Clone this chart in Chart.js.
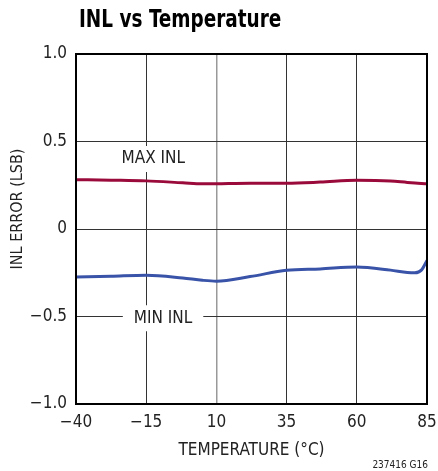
<!DOCTYPE html>
<html><head><meta charset="utf-8">
<script src="https://cdn.jsdelivr.net/npm/chart.js@4"></script>
<style>html,body{margin:0;padding:0;background:#fff}#wrap{width:438px;height:471px;position:relative}</style>
</head><body><div id="wrap"><canvas id="c"></canvas></div>
<script>
const temps = [-40, -27.5, -15, -2, 5, 10, 22, 35, 47, 60, 72, 78, 80.7, 83, 85];
const maxInl = [0.282, 0.279, 0.275, 0.264, 0.258, 0.259, 0.262, 0.262, 0.268, 0.278, 0.274, 0.266, 0.263, 0.260, 0.258];
const minInl = [-0.275, -0.270, -0.264, -0.280, -0.293, -0.298, -0.272, -0.236, -0.228, -0.217, -0.235, -0.248, -0.250, -0.235, -0.180];
const xTicks = [-40, -15, 10, 35, 60, 85];
const yTicks = [-1.0, -0.5, 0, 0.5, 1.0];
const seriesLabels = [{text: 'MAX INL', x: -12.5, y: 0.4}, {text: 'MIN INL', x: -9, y: -0.51}];
const yTitle = 'INL ERROR (LSB)';
const FONT = '"DejaVu Sans Condensed", "Liberation Sans Narrow", sans-serif';

const fmtY = v => v === 0 ? '0' : (v < 0 ? '\u2212' : '') + Math.abs(v).toFixed(1);
const fmtX = v => (v < 0 ? '\u2212' : '') + Math.abs(v);

const overlay = {
  id: 'overlay',
  beforeDatasetsDraw(chart) {
    const {ctx, scales: {x, y}} = chart;
    ctx.save();
    ctx.font = '17px ' + FONT;
    seriesLabels.forEach(l => {
      const px = x.getPixelForValue(l.x), py = y.getPixelForValue(l.y);
      const w = ctx.measureText(l.text).width;
      ctx.fillStyle = '#fff';
      ctx.fillRect(px - w / 2 - 11, py - 13, w + 22, 26);
      ctx.fillStyle = '#222';
      ctx.textAlign = 'center'; ctx.textBaseline = 'middle';
      ctx.fillText(l.text, px, py);
    });
    ctx.restore();
  },
  afterDraw(chart) {
    const {ctx, chartArea: a} = chart;
    ctx.save();
    ctx.strokeStyle = '#000'; ctx.lineWidth = 2;
    ctx.strokeRect(a.left, a.top, a.right - a.left, a.bottom - a.top);
    ctx.save();
    ctx.fillStyle = '#000';
    ctx.font = 'bold 25px ' + FONT;
    ctx.textBaseline = 'middle'; ctx.textAlign = 'left';
    ctx.translate(79, 20); ctx.scale(0.82, 1);
    ctx.fillText('INL vs Temperature', 0, 0);
    ctx.restore();
    ctx.save();
    ctx.fillStyle = '#222';
    ctx.font = '16px ' + FONT;
    ctx.translate(18, 209); ctx.rotate(-Math.PI / 2);
    ctx.textAlign = 'center'; ctx.textBaseline = 'middle';
    ctx.fillText(yTitle, 0, 0);
    ctx.restore();
    ctx.font = '10px ' + FONT;
    ctx.fillStyle = '#222';
    ctx.textAlign = 'right'; ctx.textBaseline = 'middle';
    ctx.fillText('237416 G16', 428, 465);
    ctx.restore();
  }
};

new Chart(document.getElementById('c'), {
  type: 'line',
  data: {
    datasets: [
      {label: 'MAX INL', data: temps.map((t, i) => ({x: t, y: maxInl[i]})), borderColor: '#9a0b3c', borderWidth: 3, pointRadius: 0, cubicInterpolationMode: 'monotone'},
      {label: 'MIN INL', data: temps.map((t, i) => ({x: t, y: minInl[i]})), borderColor: '#3953a8', borderWidth: 3, pointRadius: 0, cubicInterpolationMode: 'monotone'}
    ]
  },
  options: {
    responsive: true, maintainAspectRatio: false, animation: false,
    layout: {padding: {top: 54, right: 11, left: 0, bottom: 10}},
    plugins: {legend: {display: false}, tooltip: {enabled: false}},
    scales: {
      x: {
        type: 'linear', min: -40, max: 85,
        afterBuildTicks: s => { s.ticks = xTicks.map(v => ({value: v})); },
        afterFit: s => { s.height = 57; s.paddingLeft = 0; s.paddingRight = 0; },
        grid: {color: c => c.tick && c.tick.value === 10 ? '#999' : '#333', lineWidth: c => c.tick && c.tick.value === 10 ? 1.5 : 1, drawTicks: false},
        border: {color: '#000', width: 2},
        ticks: {callback: fmtX, color: '#222', font: {family: FONT, size: 17}, padding: 8, maxRotation: 0},
        title: {display: true, text: 'TEMPERATURE (°C)', color: '#222', font: {family: FONT, size: 17}, padding: {top: 2, bottom: 0}}
      },
      y: {
        min: -1, max: 1,
        afterBuildTicks: s => { s.ticks = yTicks.map(v => ({value: v})); },
        afterFit: s => { s.width = 76; s.paddingTop = 0; s.paddingBottom = 0; },
        grid: {color: '#333', lineWidth: 1, drawTicks: false},
        border: {color: '#000', width: 2},
        ticks: {callback: fmtY, color: '#222', font: {family: FONT, size: 17}, padding: 9},
        title: {display: false}
      }
    }
  },
  plugins: [overlay]
});
</script></body></html>
